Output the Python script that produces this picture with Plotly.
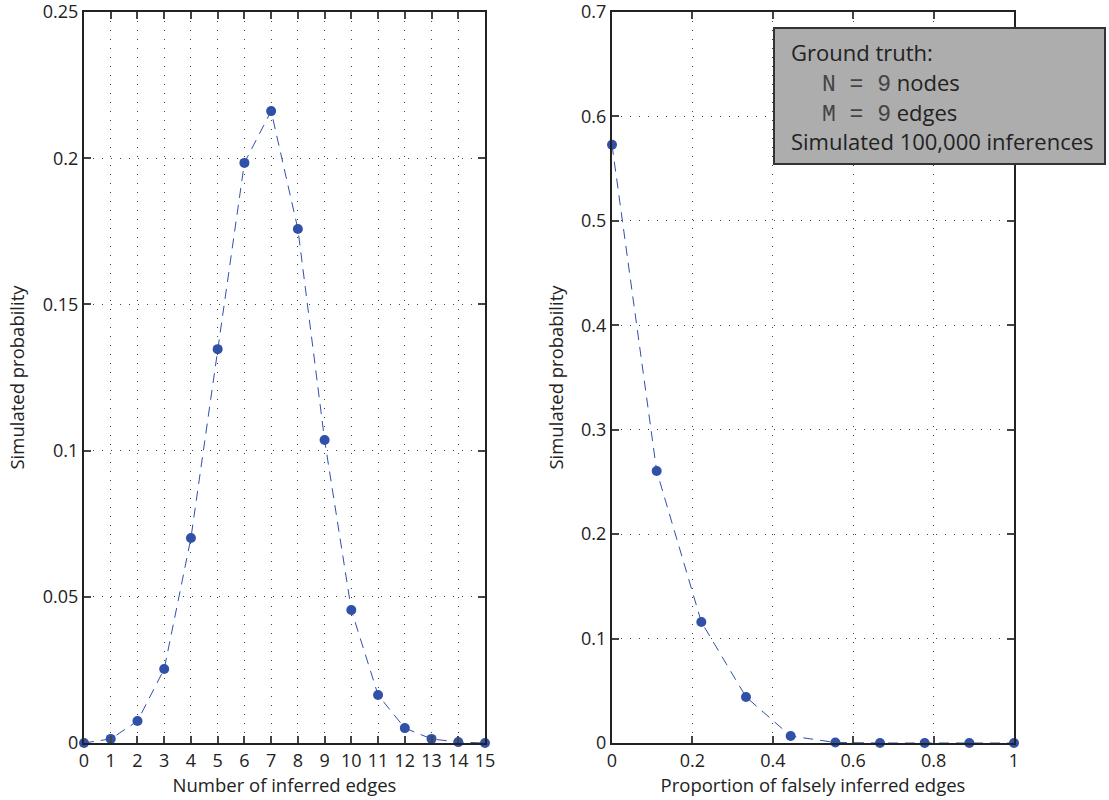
import plotly.graph_objects as go

# ---- data ----
edges_x = [0, 1, 2, 3, 4, 5, 6, 7, 8, 9, 10, 11, 12, 13, 14, 15]
edges_p = [0.0, 0.0014, 0.0075, 0.0253, 0.0701, 0.1347, 0.1984, 0.2161,
           0.1758, 0.1036, 0.0455, 0.0164, 0.0051, 0.0014, 0.0003, 0.0]

false_x = [0/9, 1/9, 2/9, 3/9, 4/9, 5/9, 6/9, 7/9, 8/9, 9/9]
false_p = [0.5728, 0.2605, 0.1159, 0.0441, 0.0067, 0.0005, 0.0, 0.0, 0.0, 0.0]

left_xticks = list(range(0, 16))
left_yticks = [0, 0.05, 0.1, 0.15, 0.2, 0.25]
left_ylabels = ["0", "0.05", "0.1", "0.15", "0.2", "0.25"]
right_xticks = [0, 0.2, 0.4, 0.6, 0.8, 1]
right_xlabels = ["0", "0.2", "0.4", "0.6", "0.8", "1"]
right_yticks = [0, 0.1, 0.2, 0.3, 0.4, 0.5, 0.6, 0.7]
right_ylabels = ["0", "0.1", "0.2", "0.3", "0.4", "0.5", "0.6", "0.7"]

FONT = "Open Sans"
BLUE = "#3150a8"
W, H = 1109, 800
L, R, T, B = 84, 95, 12, 57
PW = W - L - R
PH = H - T - B

def px_x(px):
    return (px - L) / PW

def px_y(py):
    return (H - B - py) / PH

fig = go.Figure()

fig.add_trace(go.Scatter(
    x=edges_x, y=edges_p, mode="lines+markers",
    line=dict(color=BLUE, width=1, dash="10px,7px"),
    marker=dict(color=BLUE, size=10),
    cliponaxis=False, xaxis="x", yaxis="y", showlegend=False))

fig.add_trace(go.Scatter(
    x=false_x, y=false_p, mode="lines+markers",
    line=dict(color=BLUE, width=1, dash="10px,7px"),
    marker=dict(color=BLUE, size=10),
    cliponaxis=False, xaxis="x2", yaxis="y2", showlegend=False))

grid = dict(showgrid=True, gridcolor="#444444", gridwidth=1, griddash="1px,8px")
axline = dict(showline=True, linecolor="#222222", linewidth=2, mirror="ticks",
              ticks="inside", ticklen=7, tickwidth=1.5, tickcolor="#444444",
              zeroline=False, automargin=False, ticklabeloverflow="allow",
              tickfont=dict(family=FONT, size=18, color="#222222"))
tfont = dict(family=FONT, size=18.5, color="#222222")

fig.update_layout(
    width=W, height=H,
    margin=dict(l=L, r=R, t=T, b=B),
    paper_bgcolor="white", plot_bgcolor="white",
    font=dict(family=FONT, color="#222222"),
    xaxis=dict(domain=[0, px_x(485)], range=[0, 15], tickvals=left_xticks,
               title=dict(text="Number of inferred edges", font=tfont, standoff=5),
               anchor="y", **grid, **axline),
    yaxis=dict(domain=[0, 1], range=[0, 0.25], tickvals=left_yticks,
               ticktext=left_ylabels,
               title=dict(text="Simulated probability", font=tfont, standoff=13),
               anchor="x", **grid, **axline),
    xaxis2=dict(domain=[px_x(612), 1], range=[0, 1], tickvals=right_xticks,
                ticktext=right_xlabels,
                title=dict(text="Proportion of falsely inferred edges", font=tfont, standoff=5),
                anchor="y2", **grid, **axline),
    yaxis2=dict(domain=[0, 1], range=[0, 0.7], tickvals=right_yticks,
                ticktext=right_ylabels,
                title=dict(text="Simulated probability", font=tfont, standoff=13),
                anchor="x2", **grid, **axline),
)

# Info box
fig.add_shape(type="rect", xref="paper", yref="paper",
              x0=px_x(774), x1=px_x(1105), y0=px_y(164), y1=px_y(28),
              fillcolor="#adadad", line=dict(color="#333333", width=2), layer="above")

MONO = "Liberation Mono"
lines = [
    (789, 52, "Ground truth:"),
    (820, 82, f"<span style='font-family:{MONO};font-size:23px;color:#444444'>N = 9</span> nodes"),
    (820, 112, f"<span style='font-family:{MONO};font-size:23px;color:#444444'>M = 9</span> edges"),
    (789, 141, "Simulated 100,000 inferences"),
]
for x, y, t in lines:
    fig.add_annotation(xref="paper", yref="paper", x=px_x(x), y=px_y(y),
                       xanchor="left", yanchor="middle", showarrow=False,
                       text=t, font=dict(family=FONT, size=22, color="#222222"))

fig.write_html("out.html", config={"displayModeBar": False},
               post_script="document.body.style.margin='0';document.body.style.overflow='hidden';")
